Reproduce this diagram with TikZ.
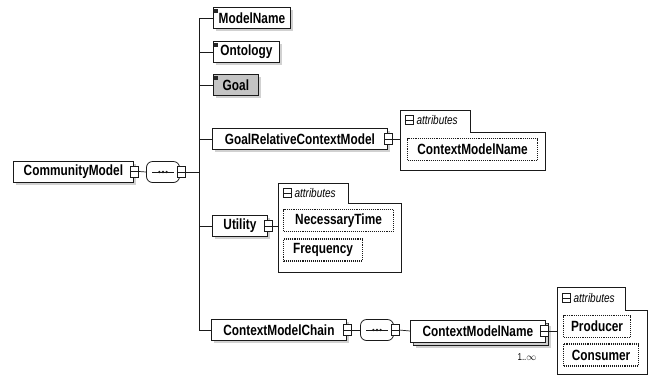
\documentclass[tikz,border=0pt]{standalone}
\usepackage{fontspec}
\setmainfont{Liberation Sans}[FakeStretch=0.8]
\usepackage{tikz}
\usetikzlibrary{positioning,shadows}
\definecolor{xsgoal}{HTML}{C4C4C4}
\definecolor{xsshade}{HTML}{9A9A9A}
\definecolor{xsline}{HTML}{1A1A1A}

\begin{document}
\begin{tikzpicture}[
  x=1pt, y=-1pt,
  font=\fontsize{14.8}{16}\selectfont\bfseries,
  elem/.style={draw=xsline, fill=white, line width=0.8pt, minimum height=21pt,
               inner xsep=4pt, inner ysep=1pt, anchor=west,
               drop shadow={shadow xshift=2.5pt, shadow yshift=-2.5pt, fill=xsshade, opacity=0.45}},
  datamark/.style={path picture={\fill[black!85] ([xshift=1pt,yshift=-1pt]path picture bounding box.north west) rectangle ++(4pt,-4pt);}},
  expander/.style={draw=xsline, fill=white, line width=0.7pt, minimum width=8pt, minimum height=11pt, inner sep=0pt,
                   path picture={\draw[line width=0.7pt] (path picture bounding box.west) -- (path picture bounding box.east);}},
  tabminus/.style={expander, minimum width=8pt, minimum height=9pt},
  seqbox/.style={draw=xsline, fill=white, line width=0.8pt, rounded corners=6pt,
                 minimum width=33pt, minimum height=21pt, inner sep=0pt},
  attrbox/.style={draw=xsline, fill=white, line width=0.8pt, line join=miter},
  attrlbl/.style={font=\fontsize{12.5}{13}\selectfont\itshape, inner sep=0pt},
  attritem/.style={draw=xsline, densely dotted, line width=1.1pt, fill=white, minimum height=22pt,
                   inner xsep=4pt, inner ysep=1pt, anchor=west},
  conn/.style={draw=xsline, line width=0.7pt},
]
\useasboundingbox (0,0) rectangle (655,376);

% root element and its sequence
\node[elem, minimum width=120pt] (cm) at (13,171.5) {CommunityModel};
\node[expander] (cmx) at ([xshift=1pt]cm.east) {};
\node[seqbox] (s1) at (163,172) {};
\node[expander] (s1x) at ([xshift=1pt]s1.east) {};
\draw[conn] ([xshift=-11pt]s1.center) -- ([xshift=11pt]s1.center);
\foreach \d in {-3.6,0,3.6}
  \fill[xsline] ([xshift=\d pt]s1.center) circle (1.3pt);

% children of the sequence
\node[elem, datamark, minimum width=77pt] (mn) at (213,18) {ModelName};
\node[elem, datamark, minimum width=66pt] (onto) at (213,52) {Ontology};
\node[elem, datamark, fill=xsgoal, minimum width=45pt] (goal) at (213,85) {Goal};
\node[elem, minimum width=175pt] (grcm) at (212,139) {GoalRelativeContextModel};
\node[expander] (grcmx) at ([xshift=1pt]grcm.east) {};
\node[elem, minimum width=55pt] (util) at (212,226) {Utility};
\node[expander] (utilx) at ([xshift=1pt]util.east) {};
\node[elem, minimum width=135pt] (cmc) at (211,330) {ContextModelChain};
\node[expander] (cmcx) at ([xshift=1pt]cmc.east) {};

\coordinate (trunktop) at (199,18);
\coordinate (trunkbot) at (199,330);
\draw[conn] (trunktop) -- (trunkbot);
\draw[conn] (cmx.east) -- (s1.west);
\draw[conn] (s1x.east) -- (s1x.east -| trunktop);
\foreach \n in {mn,onto,goal,grcm,util,cmc}
  \draw[conn] (\n.west -| trunktop) -- (\n.west);

% attributes of GoalRelativeContextModel
\draw[attrbox] (400,110) -- (470,110) -- (470,132) -- (545,132) -- (545,170) -- (400,170) -- cycle;
\node[tabminus] (a1m) at (409,120) {};
\node[attrlbl, right=3pt of a1m] (a1t) {attributes};
\node[attritem, minimum width=130pt] (a1cmn) at (407,149.5) {ContextModelName};
\coordinate (a1in) at (400,139);
\draw[conn] (grcmx.east) -- (a1in);

% attributes of Utility
\draw[attrbox] (278,183) -- (348,183) -- (348,203) -- (401,203) -- (401,272) -- (278,272) -- cycle;
\node[tabminus] (a2m) at (287,193) {};
\node[attrlbl, right=3pt of a2m] (a2t) {attributes};
\node[attritem, minimum width=110pt] (a2nt) at (283,220.5) {NecessaryTime};
\node[attritem, minimum width=79pt] (a2fr) at (283,250) {Frequency};
\coordinate (a2in) at (278,226);
\draw[conn] (utilx.east) -- (a2in);

% chain: sequence of ContextModelName
\node[seqbox] (s2) at (377,330) {};
\node[expander] (s2x) at ([xshift=1pt]s2.east) {};
\draw[conn] ([xshift=-11pt]s2.center) -- ([xshift=11pt]s2.center);
\foreach \d in {-3.6,0,3.6}
  \fill[xsline] ([xshift=\d pt]s2.center) circle (1.3pt);
\draw[conn] (cmcx.east) -- (s2.west);

\node[draw=xsline, fill=white, line width=0.8pt, minimum width=135pt, minimum height=22pt, anchor=west,
      drop shadow={shadow xshift=2.5pt, shadow yshift=-2.5pt, fill=xsshade, opacity=0.45}] (cmnback) at (413,334) {};
\node[elem, minimum width=135pt, minimum height=22pt] (cmn) at (410,331) {ContextModelName};
\node[expander] (cmnx) at ([xshift=-1pt]cmn.east) {};
\draw[conn] (s2x.east) -- (cmn.west);
\node[font=\fontsize{10}{11}\selectfont, inner sep=0pt] (cmnmult) at (527,357) {1..$\infty$};

% attributes of ContextModelName
\draw[attrbox] (557,287) -- (625,287) -- (625,310) -- (647,310) -- (647,374) -- (557,374) -- cycle;
\node[tabminus] (a3m) at (566,298) {};
\node[attrlbl, right=3pt of a3m] (a3t) {attributes};
\node[attritem, minimum width=67pt] (a3pr) at (563,326.5) {Producer};
\node[attritem, minimum width=75pt] (a3co) at (563,355) {Consumer};
\coordinate (a3in) at (557,331);
\draw[conn] (cmnx.east) -- (a3in);

\end{tikzpicture}
\end{document}
